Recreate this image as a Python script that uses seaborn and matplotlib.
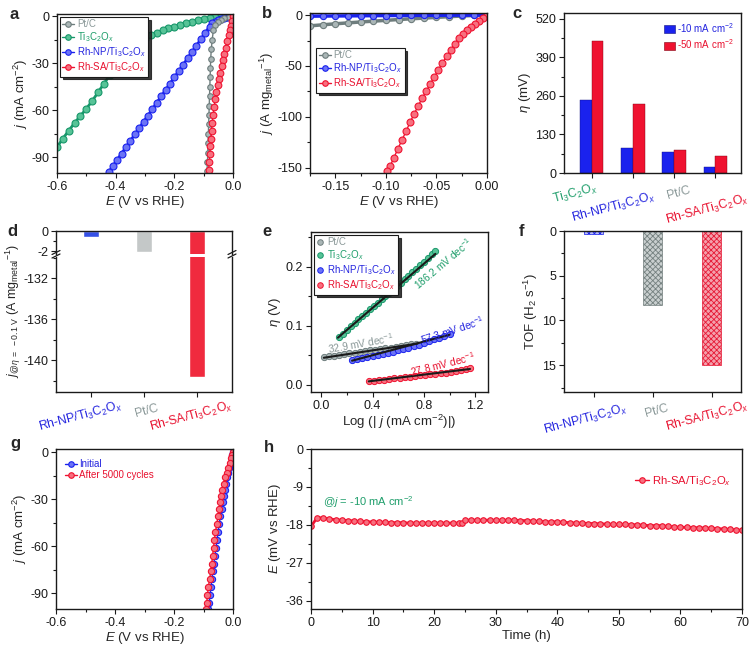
import matplotlib
matplotlib.use("Agg")
import matplotlib.pyplot as plt
import seaborn as sns
import pandas as pd
from matplotlib.ticker import MultipleLocator
from matplotlib.lines import Line2D
from matplotlib.patches import Patch
from matplotlib.transforms import blended_transform_factory

# ---------------- data ----------------
LBL_PT = "Pt/C"
LBL_TI = "Ti$_3$C$_2$O$_x$"
LBL_NP = "Rh-NP/Ti$_3$C$_2$O$_x$"
LBL_SA = "Rh-SA/Ti$_3$C$_2$O$_x$"

# (a) LSV, mA cm-2
a_pt_E = [0, -0.015, -0.03, -0.042, -0.052, -0.06, -0.067, -0.071, -0.074, -0.076, -0.077, -0.078,
          -0.079, -0.080, -0.081, -0.082, -0.083, -0.084, -0.085, -0.086, -0.087, -0.089]
a_pt_j = [0, -0.4, -1.2, -2.3, -3.8, -5.6, -9, -15, -21, -27, -33, -39,
          -45, -51, -57, -63, -69, -75, -81, -87, -93, -99]
a_ti_E = [0, -0.02, -0.04, -0.06, -0.08, -0.10, -0.12, -0.14, -0.16, -0.18, -0.20, -0.22, -0.24,
          -0.26, -0.28, -0.30, -0.32, -0.34, -0.36, -0.38, -0.40, -0.42, -0.44, -0.46, -0.48,
          -0.50, -0.52, -0.54, -0.56, -0.58, -0.60]
a_ti_j = [0, -0.15, -0.4, -0.7, -1.2, -1.8, -2.5, -3.4, -4.4, -5.6, -6.6, -7.7, -9.0,
          -10.4, -12.0, -14.5, -17.5, -20.5, -24.0, -28.0, -32.5, -37.5, -43.0, -48.5, -54.0,
          -59.0, -63.5, -68.0, -73.0, -78.0, -83.5]
a_np_E = [0, -0.01, -0.02, -0.03, -0.04, -0.05, -0.06, -0.07, -0.08, -0.095, -0.11, -0.125, -0.14,
          -0.155, -0.17, -0.185, -0.2, -0.215, -0.23, -0.245, -0.26, -0.275, -0.29, -0.305, -0.32,
          -0.335, -0.35, -0.365, -0.38, -0.395, -0.41, -0.424]
a_np_j = [0, -0.2, -0.5, -1.0, -1.6, -2.4, -3.3, -4.4, -6.6, -10.6, -14.7, -18.7, -22.8,
          -26.8, -30.9, -34.9, -39.0, -43.0, -47.1, -51.1, -55.2, -59.2, -63.3, -67.3, -71.4,
          -75.4, -79.5, -83.5, -87.6, -91.6, -95.7, -99.5]
a_sa_E = [0, -0.003, -0.006, -0.010, -0.014, -0.019, -0.025, -0.030, -0.035, -0.039, -0.044, -0.048,
          -0.052, -0.057, -0.061, -0.064, -0.068, -0.071, -0.073, -0.075, -0.077, -0.079, -0.081, -0.083]
a_sa_j = [0, -3, -6, -9, -12, -16, -20, -24, -28, -32, -36, -40,
          -44, -48, -53, -58, -63, -68, -73, -78, -83, -88, -93, -98]

# (b) mass activity, A mg-1
b_E = [0, -0.0125, -0.025, -0.0375, -0.05, -0.0625, -0.075, -0.0875, -0.1, -0.1125, -0.125,
       -0.1375, -0.15, -0.1625, -0.175]
b_pt_j = [0, -0.4, -1.0, -1.6, -2.3, -3.0, -3.7, -4.4, -5.2, -6.0, -6.8, -7.7, -8.6, -9.6, -10.6]
b_np_j = [0, -0.05, -0.1, -0.15, -0.2, -0.3, -0.35, -0.45, -0.5, -0.6, -0.7, -0.8, -0.9, -1.0, -1.1]
b_sa_E = [0, -0.004, -0.008, -0.012, -0.016, -0.020, -0.024, -0.028, -0.032, -0.036, -0.040, -0.044,
          -0.048, -0.052, -0.056, -0.060, -0.064, -0.068, -0.072, -0.076, -0.080, -0.084, -0.088,
          -0.092, -0.096, -0.0985]
b_sa_j = [0, -3, -6, -9, -12, -15, -18.5, -23, -28.5, -34.5, -40.5, -47,
          -53.5, -60.5, -67.5, -74.5, -81.5, -89, -97, -105, -114, -122.5, -131,
          -140, -148.5, -153]

# (c) overpotentials
c_cats = [LBL_TI, LBL_NP, LBL_PT, LBL_SA]
c_eta10 = [248, 86, 71, 20]
c_eta50 = [447, 233, 79, 56]
c_series = ["-10 mA cm$^{-2}$", "-50 mA cm$^{-2}$"]

# (d) mass activity at -0.1 V
d_cats = [LBL_NP, LBL_PT, LBL_SA]
d_vals = [-0.55, -2.1, -141.6]

# (e) Tafel
e_pt_x = [0.02, 0.06, 0.10, 0.14, 0.18, 0.22, 0.26, 0.30, 0.34, 0.38, 0.42, 0.46, 0.50, 0.54,
          0.58, 0.62, 0.66, 0.70, 0.74]
e_pt_y = [0.0470, 0.0482, 0.0495, 0.0508, 0.0521, 0.0534, 0.0547, 0.0560, 0.0572, 0.0584,
          0.0596, 0.0608, 0.0620, 0.0633, 0.0646, 0.0660, 0.0673, 0.0687, 0.0701]
e_ti_x = [0.14, 0.17, 0.20, 0.23, 0.26, 0.29, 0.32, 0.35, 0.38, 0.41, 0.44, 0.47, 0.50, 0.53,
          0.56, 0.59, 0.62, 0.65, 0.68, 0.71, 0.74, 0.77, 0.80, 0.83, 0.86, 0.89]
e_ti_y = [0.082, 0.087, 0.093, 0.099, 0.105, 0.111, 0.117, 0.122, 0.128, 0.134, 0.139, 0.145,
          0.151, 0.156, 0.162, 0.168, 0.173, 0.179, 0.185, 0.191, 0.197, 0.203, 0.209, 0.215,
          0.221, 0.227]
e_np_x = [0.24, 0.28, 0.32, 0.36, 0.40, 0.44, 0.48, 0.52, 0.56, 0.60, 0.64, 0.68, 0.72, 0.76,
          0.80, 0.84, 0.88, 0.92, 0.96, 1.00]
e_np_y = [0.0430, 0.0443, 0.0456, 0.0471, 0.0487, 0.0504, 0.0523, 0.0542, 0.0563, 0.0585,
          0.0608, 0.0632, 0.0658, 0.0684, 0.0712, 0.0741, 0.0771, 0.0802, 0.0834, 0.0867]
e_sa_x = [0.37, 0.41, 0.45, 0.49, 0.53, 0.57, 0.61, 0.65, 0.69, 0.73, 0.77, 0.81, 0.85, 0.89,
          0.93, 0.97, 1.01, 1.05, 1.09, 1.13, 1.16]
e_sa_y = [0.0060, 0.0070, 0.0080, 0.0090, 0.0100, 0.0110, 0.0120, 0.0130, 0.0140, 0.0150,
          0.0160, 0.0170, 0.0180, 0.0190, 0.0200, 0.0210, 0.0222, 0.0236, 0.0252, 0.0272, 0.0290]
e_fit_pt = ([0.02, 0.75], [0.046, 0.070])
e_fit_ti = ([0.13, 0.89], [0.080, 0.222])
e_fit_np = ([0.24, 1.00], [0.041, 0.085])
e_fit_sa = ([0.37, 1.16], [0.006, 0.027])
e_slopes = ["32.9 mV dec$^{-1}$", "186.2 mV dec$^{-1}$", "57.3 mV dec$^{-1}$", "27.8 mV dec$^{-1}$"]

# (f) TOF
f_cats = [LBL_NP, LBL_PT, LBL_SA]
f_tof = [0.3, 8.25, 14.95]

# (g) stability LSV
g_j = [0, -2, -4, -7, -10, -13, -16, -20, -24, -28, -32, -36, -41, -46, -51, -56, -61, -66,
       -71, -76, -81, -86, -91, -96, -100]
g_init_E = [0, -0.002, -0.004, -0.008, -0.012, -0.016, -0.0195, -0.024, -0.028, -0.0315, -0.035,
            -0.0385, -0.043, -0.047, -0.051, -0.0545, -0.058, -0.0615, -0.065, -0.0685, -0.072,
            -0.0748, -0.078, -0.081, -0.0836]
g_cyc_E = [0, -0.004, -0.007, -0.011, -0.016, -0.021, -0.0275, -0.032, -0.036, -0.040, -0.0435,
           -0.047, -0.051, -0.055, -0.0595, -0.063, -0.066, -0.069, -0.072, -0.0755, -0.079,
           -0.0836, -0.0865, -0.089, -0.0915]

# (h) chronopotentiometry
h_t = [0, 1, 2, 3, 4, 5, 6, 7, 8, 9, 10, 11, 12, 13, 14, 15, 16, 17, 18, 19, 20, 21, 22, 23, 24,
       24.5, 25, 26, 27, 28, 29, 30, 31, 32, 33, 34, 35, 36, 37, 38, 39, 40, 41, 42, 43, 44, 45,
       46, 47, 48, 49, 50, 51, 52, 53, 54, 55, 56, 57, 58, 59, 60, 61, 62, 63, 64, 65, 66, 67,
       68, 69, 70]
h_E = [-18.4, -16.3, -16.4, -16.6, -16.8, -16.9, -17.0, -17.1, -17.2, -17.3, -17.3, -17.4, -17.4,
       -17.5, -17.5, -17.5, -17.6, -17.6, -17.6, -17.6, -17.6, -17.6, -17.6, -17.6, -17.6,
       -17.6, -16.9, -16.9, -16.9, -16.9, -16.9, -16.9, -16.9, -16.9, -16.9, -17.0, -17.0, -17.1,
       -17.2, -17.3, -17.3, -17.3, -17.4, -17.5, -17.6, -17.6, -17.7, -17.7, -17.8, -17.8, -17.9,
       -17.9, -17.9, -18.0, -18.0, -18.1, -18.2, -18.2, -18.2, -18.4, -18.5, -18.6, -18.6, -18.7,
       -18.7, -18.8, -18.8, -18.9, -19.0, -19.1, -19.2, -19.3]

# ---------------- style ----------------
sns.set_theme(style="ticks")
plt.rcParams["font.family"] = ["Liberation Sans", "DejaVu Sans"]
plt.rcParams["mathtext.fontset"] = "custom"
plt.rcParams["mathtext.rm"] = "Liberation Sans"
plt.rcParams["mathtext.it"] = "Liberation Sans:italic"
plt.rcParams["mathtext.bf"] = "Liberation Sans:bold"
plt.rcParams["hatch.linewidth"] = 0.6
plt.rcParams["axes.unicode_minus"] = False

GREY = dict(line="#6e7d7d", face="#aab6b6", text="#8a9898")
GREEN = dict(line="#17976a", face="#57c397", text="#1f9e6b")
BLUE = dict(line="#1a22ee", face="#6b73f6", text="#2424df")
RED = dict(line="#ef1230", face="#f7707f", text="#e8102e")

W, H = 756, 653
fig = plt.figure(figsize=(W / 100, H / 100), dpi=100)


def px_axes(l, t, r, b):
    return fig.add_axes([l / W, 1 - b / H, (r - l) / W, (b - t) / H])


def style(ax):
    for sp in ax.spines.values():
        sp.set_visible(True)
        sp.set_linewidth(1.0)
        sp.set_color("k")
    ax.tick_params(which="both", direction="out", top=False, right=False, width=0.8,
                   color="k", labelcolor="k", labelsize=9, pad=2)
    ax.tick_params(which="major", length=3.5)
    ax.tick_params(which="minor", length=2)
    ax.set_facecolor("white")


def curve(ax, x, y, c, ms=4.5, lw=1.0):
    sns.lineplot(x=x, y=y, ax=ax, color=c["line"], linewidth=lw, marker="o", markersize=ms,
                 markerfacecolor=c["face"], markeredgecolor=c["line"], markeredgewidth=0.8,
                 sort=False, estimator=None, legend=False)


def line_legend(ax, cols, labels, frame=True, fs=7, **kw):
    handles = [Line2D([0], [0], color=c["line"], lw=1.0, marker="o", ms=4,
                      mfc=c["face"], mec=c["line"], mew=0.8) for c in cols]
    leg = ax.legend(handles, labels, frameon=frame, fontsize=fs, handlelength=1.2,
                    handletextpad=0.3, borderpad=0.25, labelspacing=0.12, fancybox=False,
                    edgecolor="k", borderaxespad=0.3,
                    shadow={"color": "k", "alpha": 0.85} if frame else False, **kw)
    if frame:
        leg.get_frame().set_linewidth(0.8)
    for t, c in zip(leg.get_texts(), cols):
        t.set_color(c["text"])
    return leg


def cat_labels(ax, labels, cols, dx, dy, fs=8.8):
    """Rotated, coloured category labels placed below the axis."""
    ax.set_xticklabels([])
    tr = blended_transform_factory(ax.transData, ax.transAxes)
    for i, (lab, c) in enumerate(zip(labels, cols)):
        ax.text(i + dx[i], dy[i], lab, transform=tr, rotation=15, ha="center", va="center",
                fontsize=fs, color=c["text"], clip_on=False)


def panel_label(x, y, s):
    fig.text(x / W, 1 - y / H, s, fontsize=12, fontweight="bold", ha="left", va="baseline")


XL = "$E$ (V vs RHE)"
LABEL_FS = 9.5

# ---------------- (a) ----------------
ax = px_axes(57, 14, 233, 173)
curve(ax, a_ti_E, a_ti_j, GREEN, ms=5, lw=2.0)
curve(ax, a_np_E, a_np_j, BLUE, ms=5, lw=2.0)
curve(ax, a_pt_E, a_pt_j, GREY, ms=4)
curve(ax, a_sa_E, a_sa_j, RED, ms=4.8)
ax.set_xlim(-0.6, 0.0)
ax.set_ylim(-100, 1.5)
ax.xaxis.set_major_locator(MultipleLocator(0.2))
ax.xaxis.set_minor_locator(MultipleLocator(0.1))
ax.yaxis.set_major_locator(MultipleLocator(30))
ax.yaxis.set_minor_locator(MultipleLocator(15))
ax.set_xlabel(XL, fontsize=LABEL_FS, labelpad=1)
ax.set_ylabel("$j$ (mA cm$^{-2}$)", fontsize=LABEL_FS, labelpad=1)
style(ax)
line_legend(ax, [GREY, GREEN, BLUE, RED], [LBL_PT, LBL_TI, LBL_NP, LBL_SA],
            loc="upper left", bbox_to_anchor=(0.0, 1.0))

# ---------------- (b) ----------------
ax = px_axes(310, 13, 487, 173)
curve(ax, b_E, b_pt_j, GREY, ms=4.5, lw=2.5)
curve(ax, b_E, b_np_j, BLUE, ms=4.5, lw=2.5)
curve(ax, b_sa_E, b_sa_j, RED, ms=5)
ax.set_xlim(-0.175, 0.0)
ax.set_ylim(-155, 2)
ax.xaxis.set_major_locator(MultipleLocator(0.05))
ax.xaxis.set_minor_locator(MultipleLocator(0.025))
ax.yaxis.set_major_locator(MultipleLocator(50))
ax.yaxis.set_minor_locator(MultipleLocator(25))
ax.xaxis.set_major_formatter(plt.FuncFormatter(lambda v, p: f"{v:.2f}"))
ax.set_xlabel(XL, fontsize=LABEL_FS, labelpad=1)
ax.set_ylabel("$j$ (A mg$_{\\mathrm{metal}}$$^{-1}$)", fontsize=LABEL_FS, labelpad=1)
style(ax)
line_legend(ax, [GREY, BLUE, RED], [LBL_PT, LBL_NP, LBL_SA],
            loc="upper left", bbox_to_anchor=(0.02, 0.80))

# ---------------- (c) ----------------
ax = px_axes(564, 13, 741, 173)
df_c = pd.DataFrame({"cat": c_cats * 2, "eta": c_eta10 + c_eta50,
                     "series": [c_series[0]] * 4 + [c_series[1]] * 4})
sns.barplot(data=df_c, x="cat", y="eta", hue="series", palette=[BLUE["line"], RED["line"]],
            width=0.57, saturation=1, ax=ax, legend=False, edgecolor="#800010", linewidth=0.3)
for p in ax.patches[:4]:
    p.set_edgecolor("#101080")
ax.set_xlim(-0.67, 3.62)
ax.set_ylim(0, 540)
ax.yaxis.set_major_locator(MultipleLocator(130))
ax.yaxis.set_minor_locator(MultipleLocator(65))
ax.set_xlabel("")
ax.set_ylabel("$\\eta$ (mV)", fontsize=LABEL_FS, labelpad=2)
style(ax)
ax.set_xticks(range(4))
cat_labels(ax, c_cats, [GREEN, BLUE, GREY, RED], dx=[-0.39, -0.46, 0.1, -0.2],
           dy=[-0.128, -0.215, -0.128, -0.23])
hc = [Patch(facecolor=BLUE["line"], edgecolor="#101080", lw=0.4),
      Patch(facecolor=RED["line"], edgecolor="#800010", lw=0.4)]
leg = ax.legend(hc, c_series, loc="upper right", bbox_to_anchor=(1.0, 1.0), frameon=False,
                fontsize=7, handlelength=1.1, handleheight=0.8, handletextpad=0.2,
                labelspacing=0.3, borderaxespad=0.4)
for t, col in zip(leg.get_texts(), [BLUE, RED]):
    t.set_color(col["text"])

# ---------------- (d) broken axis ----------------
d_colors = ["#3550e6", "#c4c8c8", "#f02a3e"]
ax_t = px_axes(56, 231, 232, 254)
ax_b = px_axes(56, 257, 232, 392)
for a_ in (ax_t, ax_b):
    sns.barplot(x=d_cats, y=d_vals, hue=d_cats, palette=d_colors, width=0.3, saturation=1,
                ax=a_, legend=False)
    a_.set_xlim(-0.67, 2.67)
    style(a_)
ax_t.set_ylim(-2.25, 0)
ax_t.yaxis.set_major_locator(MultipleLocator(2))
ax_t.yaxis.set_minor_locator(MultipleLocator(1))
ax_t.spines["bottom"].set_visible(False)
ax_t.tick_params(axis="x", which="both", bottom=False, labelbottom=False)
ax_t.set_xlabel("")
ax_t.set_ylabel("")
ax_b.set_ylim(-143.1, -129.95)
ax_b.yaxis.set_major_locator(MultipleLocator(4))
ax_b.yaxis.set_minor_locator(MultipleLocator(2))
ax_b.spines["top"].set_visible(False)
ax_b.set_xlabel("")
ax_b.set_ylabel("")
ax_b.set_xticks(range(3))
cat_labels(ax_b, d_cats, [BLUE, GREY, RED], dx=[-0.21, 0.06, -0.1], dy=[-0.185, -0.144, -0.18])
for xp in (56, 232):
    for yp in (252.5, 256):
        fig.add_artist(Line2D([(xp - 4) / W, (xp + 4) / W], [1 - (yp + 2) / H, 1 - (yp - 2) / H],
                              transform=fig.transFigure, color="k", lw=0.9))
fig.text(13 / W, 1 - 311 / H, "$j_{@\\eta\\ =\\ -0.1\\ \\mathrm{V}}$ (A mg$_{\\mathrm{metal}}$$^{-1}$)",
         rotation=90, ha="center", va="center", fontsize=9)

# ---------------- (e) ----------------
ax = px_axes(311, 232, 488, 392)
for xs, ys, c in [(e_pt_x, e_pt_y, GREY), (e_ti_x, e_ti_y, GREEN), (e_np_x, e_np_y, BLUE),
                  (e_sa_x, e_sa_y, RED)]:
    sns.scatterplot(x=xs, y=ys, ax=ax, color=c["face"], edgecolor=c["line"], s=20,
                    linewidth=0.7, legend=False, zorder=2)
for fx, fy in [e_fit_pt, e_fit_ti, e_fit_np, e_fit_sa]:
    sns.lineplot(x=fx, y=fy, ax=ax, color="k", linewidth=1.5, legend=False, zorder=3)
ax.text(0.305, 0.071, e_slopes[0], color=GREY["text"], rotation=10, fontsize=7.3,
        ha="center", va="center")
ax.text(0.95, 0.205, e_slopes[1], color=GREEN["text"], rotation=40, fontsize=7.3,
        ha="center", va="center")
ax.text(1.02, 0.093, e_slopes[2], color=BLUE["text"], rotation=18, fontsize=7.3,
        ha="center", va="center")
ax.text(0.95, 0.035, e_slopes[3], color=RED["text"], rotation=14, fontsize=7.3,
        ha="center", va="center")
ax.set_xlim(-0.08, 1.3)
ax.set_ylim(-0.012, 0.259)
ax.xaxis.set_major_locator(MultipleLocator(0.4))
ax.xaxis.set_minor_locator(MultipleLocator(0.2))
ax.yaxis.set_major_locator(MultipleLocator(0.1))
ax.yaxis.set_minor_locator(MultipleLocator(0.05))
ax.set_xlabel("Log (| $j$ (mA cm$^{-2}$)|)", fontsize=LABEL_FS, labelpad=1)
ax.set_ylabel("$\\eta$ (V)", fontsize=LABEL_FS, labelpad=2)
style(ax)
hs = [Line2D([0], [0], ls="none", marker="o", ms=4, mfc=c["face"], mec=c["line"], mew=0.7)
      for c in (GREY, GREEN, BLUE, RED)]
leg = ax.legend(hs, [LBL_PT, LBL_TI, LBL_NP, LBL_SA], loc="upper left",
                bbox_to_anchor=(0.0, 1.0), fontsize=7, handlelength=0.8, handletextpad=0.3,
                borderpad=0.25, labelspacing=0.12, fancybox=False, edgecolor="k",
                borderaxespad=0.3, shadow={"color": "k", "alpha": 0.85})
leg.get_frame().set_linewidth(0.8)
for t, c in zip(leg.get_texts(), (GREY, GREEN, BLUE, RED)):
    t.set_color(c["text"])

# ---------------- (f) ----------------
ax = px_axes(564, 231, 741, 392)
f_edge = [BLUE["line"], "#74807f", "#e61a36"]
f_face = ["#b8bdf8", "#c9cfcf", "#f4a0ac"]
sns.barplot(x=f_cats, y=f_tof, hue=f_cats, palette=f_face, width=0.32, saturation=1, ax=ax,
            legend=False)
for p, ec in zip(ax.patches, f_edge):
    p.set_hatch("xxxxxx")
    p.set_edgecolor(ec)
    p.set_linewidth(0.5)
ax.set_xlim(-0.5, 2.5)
ax.set_ylim(18, 0)
ax.yaxis.set_major_locator(MultipleLocator(5))
ax.yaxis.set_minor_locator(MultipleLocator(2.5))
ax.set_xlabel("")
ax.set_ylabel("TOF (H$_2$ s$^{-1}$)", fontsize=LABEL_FS, labelpad=2)
style(ax)
ax.set_xticks(range(3))
cat_labels(ax, f_cats, [BLUE, GREY, RED], dx=[-0.14, 0.07, -0.07], dy=[-0.174, -0.12, -0.155])

# ---------------- (g) ----------------
ax = px_axes(56, 449, 233, 609)
curve(ax, g_init_E, g_j, BLUE, ms=4.5)
curve(ax, g_cyc_E, g_j, RED, ms=4.5)
ax.set_xlim(-0.6, 0.0)
ax.set_ylim(-100, 2)
ax.xaxis.set_major_locator(MultipleLocator(0.2))
ax.xaxis.set_minor_locator(MultipleLocator(0.1))
ax.yaxis.set_major_locator(MultipleLocator(30))
ax.yaxis.set_minor_locator(MultipleLocator(15))
ax.set_xlabel(XL, fontsize=LABEL_FS, labelpad=1)
ax.set_ylabel("$j$ (mA cm$^{-2}$)", fontsize=LABEL_FS, labelpad=1)
style(ax)
line_legend(ax, [BLUE, RED], ["Initial", "After 5000 cycles"], frame=False,
            loc="upper left", bbox_to_anchor=(0.02, 0.97))

# ---------------- (h) ----------------
ax = px_axes(311, 449, 742, 609)
curve(ax, h_t, h_E, RED, ms=4, lw=2.0)
ax.text(1.9, -12.6, "@$j$ = -10 mA cm$^{-2}$", color=GREEN["text"], fontsize=8, va="center")
ax.set_xlim(0, 70)
ax.set_ylim(-38, 0)
ax.xaxis.set_major_locator(MultipleLocator(10))
ax.xaxis.set_minor_locator(MultipleLocator(5))
ax.yaxis.set_major_locator(MultipleLocator(9))
ax.yaxis.set_minor_locator(MultipleLocator(4.5))
ax.set_xlabel("Time (h)", fontsize=LABEL_FS, labelpad=1)
ax.set_ylabel("$E$ (mV vs RHE)", fontsize=LABEL_FS, labelpad=2)
style(ax)
line_legend(ax, [RED], [LBL_SA], frame=False, fs=8.2, loc="upper right",
            bbox_to_anchor=(0.99, 0.88))

# ---------------- panel labels ----------------
panel_label(10, 19, "a")
panel_label(262, 18, "b")
panel_label(512, 18, "c")
panel_label(7, 236, "d")
panel_label(262, 236, "e")
panel_label(519, 236, "f")
panel_label(10, 448, "g")
panel_label(264, 452, "h")

fig.savefig("out.png", dpi=100, facecolor="white")
